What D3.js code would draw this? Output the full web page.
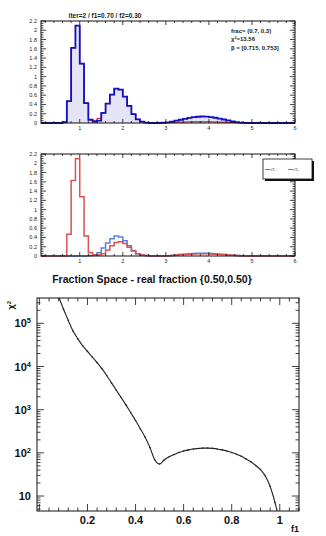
<!DOCTYPE html>
<html>
<head>
<meta charset="utf-8">
<script src="https://cdn.jsdelivr.net/npm/d3@7"></script>
<style>
  body { margin: 0; background: #fff; }
  text { font-family: "Liberation Sans", Arial, sans-serif; }
</style>
</head>
<body>
<svg id="chart" width="326" height="536"></svg>
<script>
// histogram bins: 0.1 wide, listed from 0.6 up; everything else in [0.1, 6] is empty
const binStart = 0.6;
const binWidth = 0.1;
const histRange = [0.1, 6];

const dataHist = [0.02, 0.47, 1.62, 2.10, 1.28, 0.43, 0.07, 0.03, 0.05, 0.22,
  0.42, 0.61, 0.74, 0.72, 0.57, 0.37, 0.19, 0.08, 0.03, 0.01,
  0, 0, 0, 0.005, 0.015, 0.03, 0.05, 0.07, 0.09, 0.11,
  0.125, 0.135, 0.14, 0.137, 0.128, 0.113, 0.095, 0.075, 0.055, 0.035,
  0.02, 0.01, 0.004];
const fitHist = [0.02, 0.47, 1.62, 2.10, 1.28, 0.43, 0.07, 0.05, 0.10, 0.22,
  0.42, 0.61, 0.74, 0.72, 0.57, 0.37, 0.19, 0.08, 0.03, 0.01,
  0, 0, 0, 0.003, 0.008, 0.012, 0.016, 0.019, 0.022, 0.024,
  0.026, 0.027, 0.027, 0.026, 0.025, 0.023, 0.02, 0.017, 0.013, 0.01,
  0.006, 0.003, 0.001];
const template1 = [0, 0.47, 1.63, 2.10, 1.28, 0.43, 0.07, 0.02, 0.02, 0.05,
  0.13, 0.22, 0.29, 0.31, 0.27, 0.19, 0.11, 0.05, 0.02, 0.01,
  0, 0, 0, 0.002, 0.005, 0.01, 0.02, 0.03, 0.035, 0.04,
  0.045, 0.05, 0.05, 0.05, 0.045, 0.04, 0.035, 0.03, 0.02, 0.015,
  0.01, 0.005, 0.002];
const template2 = [0, 0, 0, 0, 0, 0, 0.01, 0.02, 0.07, 0.17,
  0.28, 0.37, 0.43, 0.41, 0.33, 0.22, 0.12, 0.05, 0.02, 0.01,
  0, 0, 0, 0.002, 0.005, 0.012, 0.02, 0.03, 0.04, 0.047,
  0.053, 0.058, 0.06, 0.058, 0.055, 0.048, 0.04, 0.032, 0.024, 0.016,
  0.01, 0.005, 0.002];

const histTitle = "iter=2 / f1=0.70 / f2=0.30";
const fitLines = ["frac= (0.7, 0.3)", "χ²=13.56", "β = [0.715, 0.753]"];
const histYTicks = [0, 0.2, 0.4, 0.6, 0.8, 1, 1.2, 1.4, 1.6, 1.8, 2, 2.2];
const histXTicks = [1, 2, 3, 4, 5, 6];
const legendLabels = ["t/T₁", "t/T₂"];

// fraction scan
const scanTitle = "Fraction Space - real fraction {0.50,0.50}";
const scanF1 = [0.08, 0.10, 0.12, 0.14, 0.16, 0.18, 0.20, 0.22, 0.24, 0.26,
  0.28, 0.30, 0.32, 0.34, 0.36, 0.38, 0.40, 0.42, 0.44, 0.46,
  0.48, 0.50, 0.52, 0.54, 0.56, 0.58, 0.60, 0.62, 0.64, 0.66,
  0.68, 0.70, 0.72, 0.74, 0.76, 0.78, 0.80, 0.82, 0.84, 0.86,
  0.88, 0.90, 0.92, 0.94, 0.96, 0.98, 1.00];
const scanChi2 = [417000, 214000, 117000, 66000, 43700, 30200, 22400, 16600, 12300, 8900,
  6200, 4170, 2820, 1910, 1290, 851, 562, 363, 229, 132,
  69, 55, 69, 81, 91, 102, 110, 117, 123, 126,
  129, 129, 127, 123, 117, 110, 102, 93, 83, 72,
  62, 51, 41, 29, 16.6, 7.1, 2.5];
const scanXTicks = [0.2, 0.4, 0.6, 0.8, 1];
const scanYTicks = [10, 100, 1000, 10000, 100000];

const svg = d3.select('#chart');
const ink = '#111';

function histPoints(values) {
  let pts = [[histRange[0], 0]];
  values.forEach((v, i) => pts.push([binStart + i * binWidth, v]));
  pts.push([binStart + values.length * binWidth, 0]);
  pts.push([histRange[1], 0]);
  return pts;
}

function histPanel(top, opts) {
  let x = d3.scaleLinear().domain(histRange).range([41, 295]);
  let y = d3.scaleLinear().domain([0, 2.2]).range([top + 102, top]);
  let g = svg.append('g');

  let line = d3.line().x(d => x(d[0])).y(d => y(d[1])).curve(d3.curveStepAfter);
  let area = d3.area().x(d => x(d[0])).y0(y(0)).y1(d => y(d[1])).curve(d3.curveStepAfter);

  if (opts.fill) {
    g.append('path').attr('d', area(histPoints(opts.fill))).attr('fill', '#e4e4f6');
  }
  opts.lines.forEach(l => {
    g.append('path').attr('d', line(histPoints(l.values)))
      .attr('fill', 'none').attr('stroke', l.color).attr('stroke-width', l.width);
  });

  // frame
  g.append('rect').attr('x', x.range()[0]).attr('y', top)
    .attr('width', x.range()[1] - x.range()[0]).attr('height', 102)
    .attr('fill', 'none').attr('stroke', ink).attr('stroke-width', 1);

  // x ticks, bottom and top
  let xMinor = d3.range(0.2, 6.001, 0.2);
  [[y(0), -1], [top, 1]].forEach(([y0, dir]) => {
    g.selectAll(null).data(xMinor).enter().append('line')
      .attr('x1', d => x(d)).attr('x2', d => x(d))
      .attr('y1', y0).attr('y2', d => y0 + dir * (histXTicks.includes(Math.round(d * 10) / 10) ? 4 : 2))
      .attr('stroke', ink).attr('stroke-width', 0.8);
  });
  // y ticks, left and right
  let yMinor = d3.range(0, 2.2001, 0.05);
  [[x.range()[0], 1], [x.range()[1], -1]].forEach(([x0, dir]) => {
    g.selectAll(null).data(yMinor).enter().append('line')
      .attr('y1', d => y(d)).attr('y2', d => y(d))
      .attr('x1', x0).attr('x2', (d, i) => x0 + dir * (i % 4 === 0 ? 5 : 2.5))
      .attr('stroke', ink).attr('stroke-width', 0.8);
  });

  g.selectAll(null).data(histYTicks).enter().append('text')
    .attr('x', 37).attr('y', d => y(d) + 2)
    .attr('text-anchor', 'end').attr('font-size', 5.5).attr('fill', '#222')
    .text(d => d);
  g.selectAll(null).data(histXTicks).enter().append('text')
    .attr('x', d => x(d)).attr('y', y(0) + 7)
    .attr('text-anchor', 'middle').attr('font-size', 5.5).attr('fill', '#222')
    .text(d => d);
  return { x, y, g };
}

// top panel: data vs fit
let p1 = histPanel(21, {
  fill: dataHist,
  lines: [
    { values: fitHist, color: '#d01010', width: 1 },
    { values: dataHist, color: '#1010c8', width: 1.8 }
  ]
});
svg.append('text').attr('x', 105).attr('y', 17.5).attr('text-anchor', 'middle')
  .attr('font-size', 6.5).attr('font-weight', 'bold').attr('fill', '#222').text(histTitle);
svg.selectAll(null).data(fitLines).enter().append('text')
  .attr('x', 231).attr('y', (d, i) => 33 + i * 8.3)
  .attr('font-size', 6).attr('font-weight', 'bold').attr('fill', '#222')
  .text(d => d);

// middle panel: templates
let p2 = histPanel(154, {
  lines: [
    { values: template2, color: '#5a7fdc', width: 1.5 },
    { values: template1, color: '#dc5050', width: 1.5 }
  ]
});
// legend with shadow
svg.append('rect').attr('x', 265).attr('y', 161).attr('width', 49).attr('height', 20).attr('fill', ink);
svg.append('rect').attr('x', 263).attr('y', 159).attr('width', 49).attr('height', 20)
  .attr('fill', '#fff').attr('stroke', ink).attr('stroke-width', 0.8);
[['#dc5050', 265], ['#5a7fdc', 288]].forEach(([c, lx], i) => {
  svg.append('line').attr('x1', lx).attr('x2', lx + 5).attr('y1', 169.5).attr('y2', 169.5)
    .attr('stroke', c).attr('stroke-width', 1);
  svg.append('text').attr('x', lx + 5.5).attr('y', 171).attr('font-size', 3.5).attr('fill', '#333')
    .text(legendLabels[i]);
});

// bottom panel: chi2 scan on a log scale
let sx = d3.scaleLinear().domain([-0.01, 1.08]).range([37, 299]);
let sy = d3.scaleLog().domain([4.5, 386000]).range([511, 298]);
let sg = svg.append('g');

svg.append('text').attr('x', 152).attr('y', 283).attr('text-anchor', 'middle')
  .attr('font-size', 10.5).attr('font-weight', 'bold').attr('fill', ink).text(scanTitle);

svg.append('clipPath').attr('id', 'scan-clip').append('rect')
  .attr('x', 37).attr('y', 298).attr('width', 262).attr('height', 213);

let scanPts = scanF1.map((f, i) => [f, scanChi2[i]]);
sg.append('path').attr('clip-path', 'url(#scan-clip)')
  .attr('d', d3.line().x(d => sx(d[0])).y(d => sy(d[1])).curve(d3.curveMonotoneX)(scanPts))
  .attr('fill', 'none').attr('stroke', '#222').attr('stroke-width', 1.1);
sg.append('g').attr('clip-path', 'url(#scan-clip)').selectAll('circle').data(scanPts).enter()
  .append('circle').attr('cx', d => sx(d[0])).attr('cy', d => sy(d[1])).attr('r', 0.8).attr('fill', '#222');

sg.append('rect').attr('x', 37).attr('y', 298).attr('width', 262).attr('height', 213)
  .attr('fill', 'none').attr('stroke', ink).attr('stroke-width', 1);

// x ticks
let sxMinor = d3.range(0, 1.0801, 0.04);
[[511, -1], [298, 1]].forEach(([y0, dir]) => {
  sg.selectAll(null).data(sxMinor).enter().append('line')
    .attr('x1', d => sx(d)).attr('x2', d => sx(d))
    .attr('y1', y0).attr('y2', (d, i) => y0 + dir * (i % 5 === 0 ? 7 : 3.5))
    .attr('stroke', ink).attr('stroke-width', 0.8);
});
// y ticks (log)
let syMinor = [];
[1, 10, 100, 1000, 10000, 100000].forEach(dec => {
  for (let k = 1; k < 10; k++) {
    let v = dec * k;
    if (v >= 4.5 && v <= 386000) syMinor.push(v);
  }
});
[[37, 1], [299, -1]].forEach(([x0, dir]) => {
  sg.selectAll(null).data(syMinor).enter().append('line')
    .attr('y1', d => sy(d)).attr('y2', d => sy(d))
    .attr('x1', x0).attr('x2', d => x0 + dir * (scanYTicks.includes(d) ? 7 : 3.5))
    .attr('stroke', ink).attr('stroke-width', 0.8);
});

sg.selectAll(null).data(scanXTicks).enter().append('text')
  .attr('x', d => sx(d)).attr('y', 524).attr('text-anchor', 'middle')
  .attr('font-size', 11).attr('font-weight', 'bold').attr('fill', ink)
  .text(d => d);

let yl = sg.selectAll(null).data(scanYTicks).enter().append('text')
  .attr('x', 31).attr('y', d => sy(d) + 4).attr('text-anchor', 'end')
  .attr('font-size', 11).attr('font-weight', 'bold').attr('fill', ink);
yl.each(function(d) {
  let t = d3.select(this);
  let p = Math.round(Math.log10(d));
  if (p === 1) { t.text('10'); return; }
  t.append('tspan').text('10');
  t.append('tspan').attr('dy', -4).attr('font-size', 7.5).text(p);
});

sg.append('text').attr('x', 299).attr('y', 532).attr('text-anchor', 'end')
  .attr('font-size', 9).attr('font-weight', 'bold').attr('fill', ink).text('f1');
sg.append('text').attr('transform', 'translate(14,301) rotate(-90)').attr('text-anchor', 'end')
  .attr('font-size', 9).attr('font-weight', 'bold').attr('fill', ink)
  .html('χ<tspan dy="-3" font-size="6">2</tspan>');
</script>
</body>
</html>
